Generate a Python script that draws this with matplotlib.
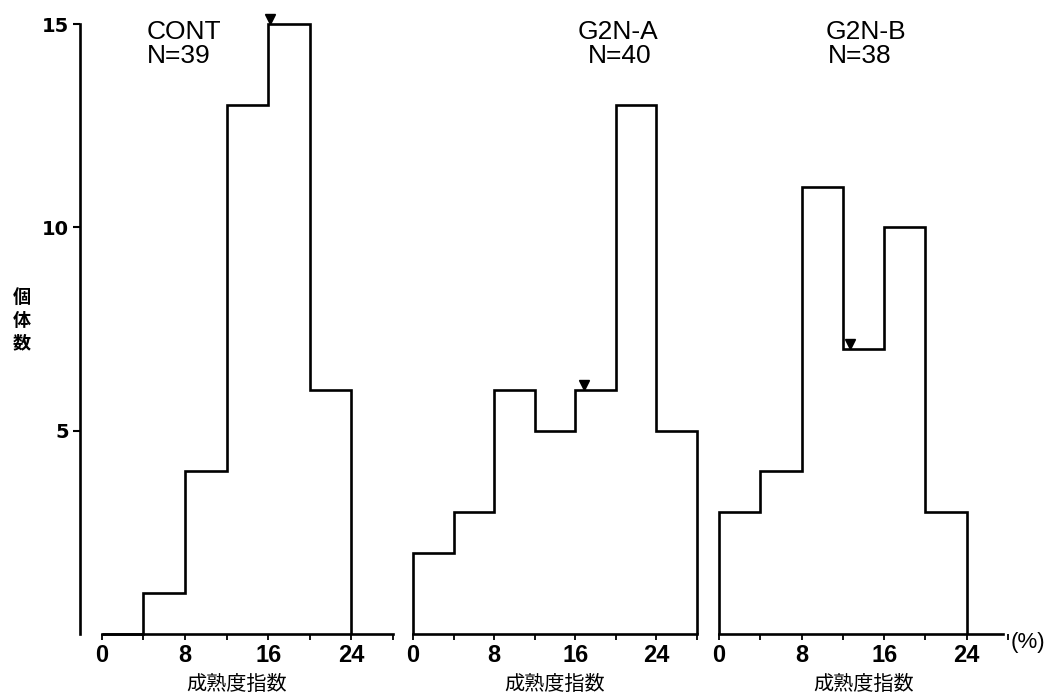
import matplotlib
matplotlib.use('Agg')
import matplotlib.pyplot as plt
import numpy as np

# 成熟度指数 (%) class width 4, count of individuals per class
edges_cont = [0, 4, 8, 12, 16, 20, 24]
counts_cont = [0, 1, 4, 13, 15, 6]

edges_a = [0, 4, 8, 12, 16, 20, 24, 28]
counts_a = [2, 3, 6, 5, 6, 13, 5]

edges_b = [0, 4, 8, 12, 16, 20, 24]
counts_b = [3, 4, 11, 7, 10, 3]

group_names = ['CONT', 'G2N-A', 'G2N-B']
group_n = ['N=39', 'N=40', 'N=38']

xticks_major = [0, 8, 16, 24]
yticks = [5, 10, 15]

plt.rcParams['font.family'] = ['Liberation Sans', 'Noto Sans CJK JP', 'DejaVu Sans']
cjk = ['Noto Sans CJK JP', 'DejaVu Sans']

W, H = 1047, 698
fig = plt.figure(figsize=(W / 100, H / 100), dpi=100)
bottom = 1 - 634 / H
height = (634 - 24) / H

ax1 = fig.add_axes([80 / W, bottom, 313 / W, height])
ax2 = fig.add_axes([413 / W, bottom, 284 / W, height])
ax3 = fig.add_axes([719 / W, bottom, 289 / W, height])

panels = [
    (ax1, edges_cont, counts_cont, (-2.1, 28), 28, (4.3, 4.3)),
    (ax2, edges_a, counts_a, (0, 28), 28, (16.2, 17.2)),
    (ax3, edges_b, counts_b, (0, 28), 27.5, (10.3, 10.5)),
]

lw = 1.9
for i, (ax, edges, counts, xlim, xend, title_x) in enumerate(panels):
    step = ax.stairs(counts, edges, color='black', linewidth=lw, baseline=0)
    step.set_clip_on(False)

    # mean maturity index marked with a small triangle
    centers = (np.array(edges[:-1]) + np.array(edges[1:])) / 2
    mean = np.sum(centers * np.array(counts)) / np.sum(counts)
    k = np.searchsorted(edges, mean) - 1
    ax.plot([mean], [counts[k] + 0.13], marker='v', color='black',
            markersize=7, clip_on=False, zorder=5)

    ax.set_xlim(*xlim)
    ax.set_ylim(0, 15)
    ax.patch.set_alpha(0)
    for s in ['top', 'right']:
        ax.spines[s].set_visible(False)
    ax.spines['bottom'].set_bounds(0, xend)
    ax.spines['bottom'].set_linewidth(lw)

    ax.set_xticks(np.arange(0, 29, 4))
    ax.set_xticklabels([str(t) if t in xticks_major else '' for t in np.arange(0, 29, 4)],
                       fontsize=17, fontweight='bold')
    ax.tick_params(axis='x', direction='out', length=4, width=1.3, pad=3)

    if i == 0:
        ax.spines['left'].set_linewidth(lw)
        ax.set_yticks(yticks)
        ax.set_yticklabels([str(t) for t in yticks], fontsize=14, fontweight='bold',
                           family='DejaVu Sans')
        ax.tick_params(axis='y', direction='out', length=5, width=1.5, pad=3)
    else:
        ax.spines['left'].set_visible(False)
        ax.set_yticks([])

    ax.set_xlabel('成熟度指数', family=cjk, fontsize=14.5, labelpad=5)

    ax.text(title_x[0], 15.1, group_names[i], fontsize=19, ha='left', va='top', clip_on=False)
    ax.text(title_x[1], 14.5, group_n[i], fontsize=19, ha='left', va='top', clip_on=False)

ax3.text(29.9, -0.2, '(%)', fontsize=16, ha='center', va='center', clip_on=False)

fig.text(22 / W, 1 - 320 / H, '個\n体\n数', family=cjk, fontsize=13, fontweight='bold',
         ha='center', va='center', linespacing=1.25)

fig.savefig('out.png', dpi=100, facecolor='white')
